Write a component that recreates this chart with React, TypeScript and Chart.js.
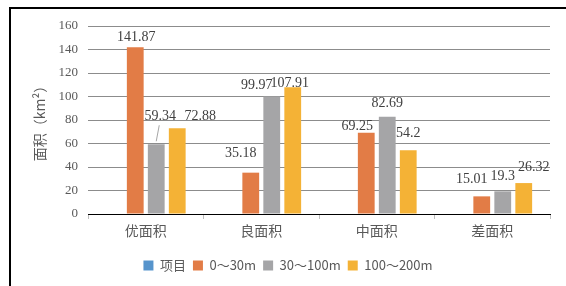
import { useEffect, useRef } from "react";
import { Chart, registerables } from "chart.js";

Chart.register(...registerables);

const categories = ["优面积", "良面积", "中面积", "差面积"];
const seriesNames = ["项目", "0～30m", "30～100m", "100～200m"];
const itemValues: (number | null)[] = [null, null, null, null];
const near = [141.87, 35.18, 69.25, 15.01];
const mid = [59.34, 99.97, 82.69, 19.3];
const far = [72.88, 107.91, 54.2, 26.32];
const yMin = 0;
const yMax = 160;
const yStep = 20;
const yTitle = "面积（km²）";

const colors = ["#5694CC", "#E27C46", "#A5A5A7", "#F4B236"];

// label nudges (dx, dy) per series / category, as in the reference layout
const labelNudges: Record<number, [number, number][]> = {
  1: [[1, 0], [-10, -9], [-9, 4], [-10, -7]],
  2: [[4, -18], [-15, -1], [0, -4], [0, -5]],
  3: [[23, -2], [-3, 6], [0, -7], [10, -6]],
};

const serif = "'Liberation Serif', 'DejaVu Serif', serif";
const cjk = "'Noto Sans CJK SC', 'Noto Sans', sans-serif";

const labelsPlugin = {
  id: "valueLabels",
  afterDatasetsDraw(chart: any) {
    const ctx = chart.ctx;
    ctx.save();
    ctx.font = `14px ${serif}`;
    ctx.fillStyle = "#404040";
    ctx.textAlign = "center";
    ctx.textBaseline = "middle";
    chart.data.datasets.forEach((ds: any, i: number) => {
      const meta = chart.getDatasetMeta(i);
      ds.data.forEach((v: any, j: number) => {
        if (v == null) return;
        const el = meta.data[j];
        const [dx, dy] = (labelNudges[i] && labelNudges[i][j]) || [0, 0];
        const lx = el.x + dx;
        const ly = el.y - 10 + dy;
        ctx.fillText(String(v), lx, ly);
        if (dy < -12) {
          ctx.beginPath();
          ctx.strokeStyle = "#A6A6A6";
          ctx.lineWidth = 1;
          ctx.moveTo(lx - 1, ly + 9);
          ctx.lineTo(el.x, el.y - 3);
          ctx.stroke();
        }
      });
    });
    ctx.restore();
  },
};

const legendShift = {
  id: "legendShift",
  afterLayout(chart: any) {
    if (chart.legend) {
      chart.legend.left += 13;
      chart.legend.right += 13;
    }
  },
};

const framePlugin = {
  id: "frame",
  beforeDraw(chart: any) {
    const ctx = chart.ctx;
    ctx.save();
    ctx.fillStyle = "#ffffff";
    ctx.fillRect(0, 0, chart.width, chart.height);
    ctx.restore();
  },
  afterDraw(chart: any) {
    const ctx = chart.ctx;
    ctx.save();
    ctx.strokeStyle = "#000000";
    ctx.lineWidth = 2;
    ctx.strokeRect(10, 8, chart.width + 20, chart.height + 20);
    ctx.restore();
  },
};

export default function App() {
  const ref = useRef<HTMLCanvasElement>(null);
  useEffect(() => {
    if (!ref.current) return;
    const datasetsValues = [itemValues, near, mid, far];
    const chart = new Chart(ref.current, {
      type: "bar",
      data: {
        labels: categories,
        datasets: datasetsValues.map((d, i) => ({
          label: seriesNames[i],
          data: d,
          backgroundColor: colors[i],
          borderWidth: 0,
          categoryPercentage: 0.727,
          barPercentage: 0.8,
        })),
      },
      options: {
        responsive: false,
        animation: false,
        events: [],
        layout: { padding: { left: 0, right: 16, top: 26, bottom: 4 } },
        plugins: {
          tooltip: { enabled: false },
          legend: {
            position: "bottom",
            labels: {
              boxWidth: 10,
              boxHeight: 10,
              padding: 7,
              color: "#595959",
              font: { family: cjk, size: 13 },
            },
          },
        },
        scales: {
          x: {
            grid: {
              drawOnChartArea: false,
              drawTicks: true,
              tickLength: 5,
              color: "#BFBFBF",
            },
            border: { display: true, color: "#000000", width: 1 },
            ticks: { color: "#595959", font: { family: cjk, size: 14 }, padding: 3 },
            afterFit(scale: any) {
              scale.height = 38;
            },
          },
          y: {
            min: yMin,
            max: yMax,
            ticks: {
              stepSize: yStep,
              color: "#595959",
              font: { family: serif, size: 13 },
              padding: 10,
            },
            grid: { color: "#8C8C8C", drawTicks: false },
            border: { display: false },
            title: {
              display: true,
              text: yTitle,
              color: "#595959",
              font: { family: cjk, size: 14 },
              padding: { top: 31, bottom: 0 },
            },
            afterFit(scale: any) {
              scale.width = 88;
            },
          },
        },
      },
      plugins: [labelsPlugin, legendShift, framePlugin],
    });
    return () => chart.destroy();
  }, []);
  return (
    <div style={{ position: "fixed", left: 0, top: 0, width: 566, height: 286 }}>
      <canvas ref={ref} width={566} height={286} />
    </div>
  );
}
